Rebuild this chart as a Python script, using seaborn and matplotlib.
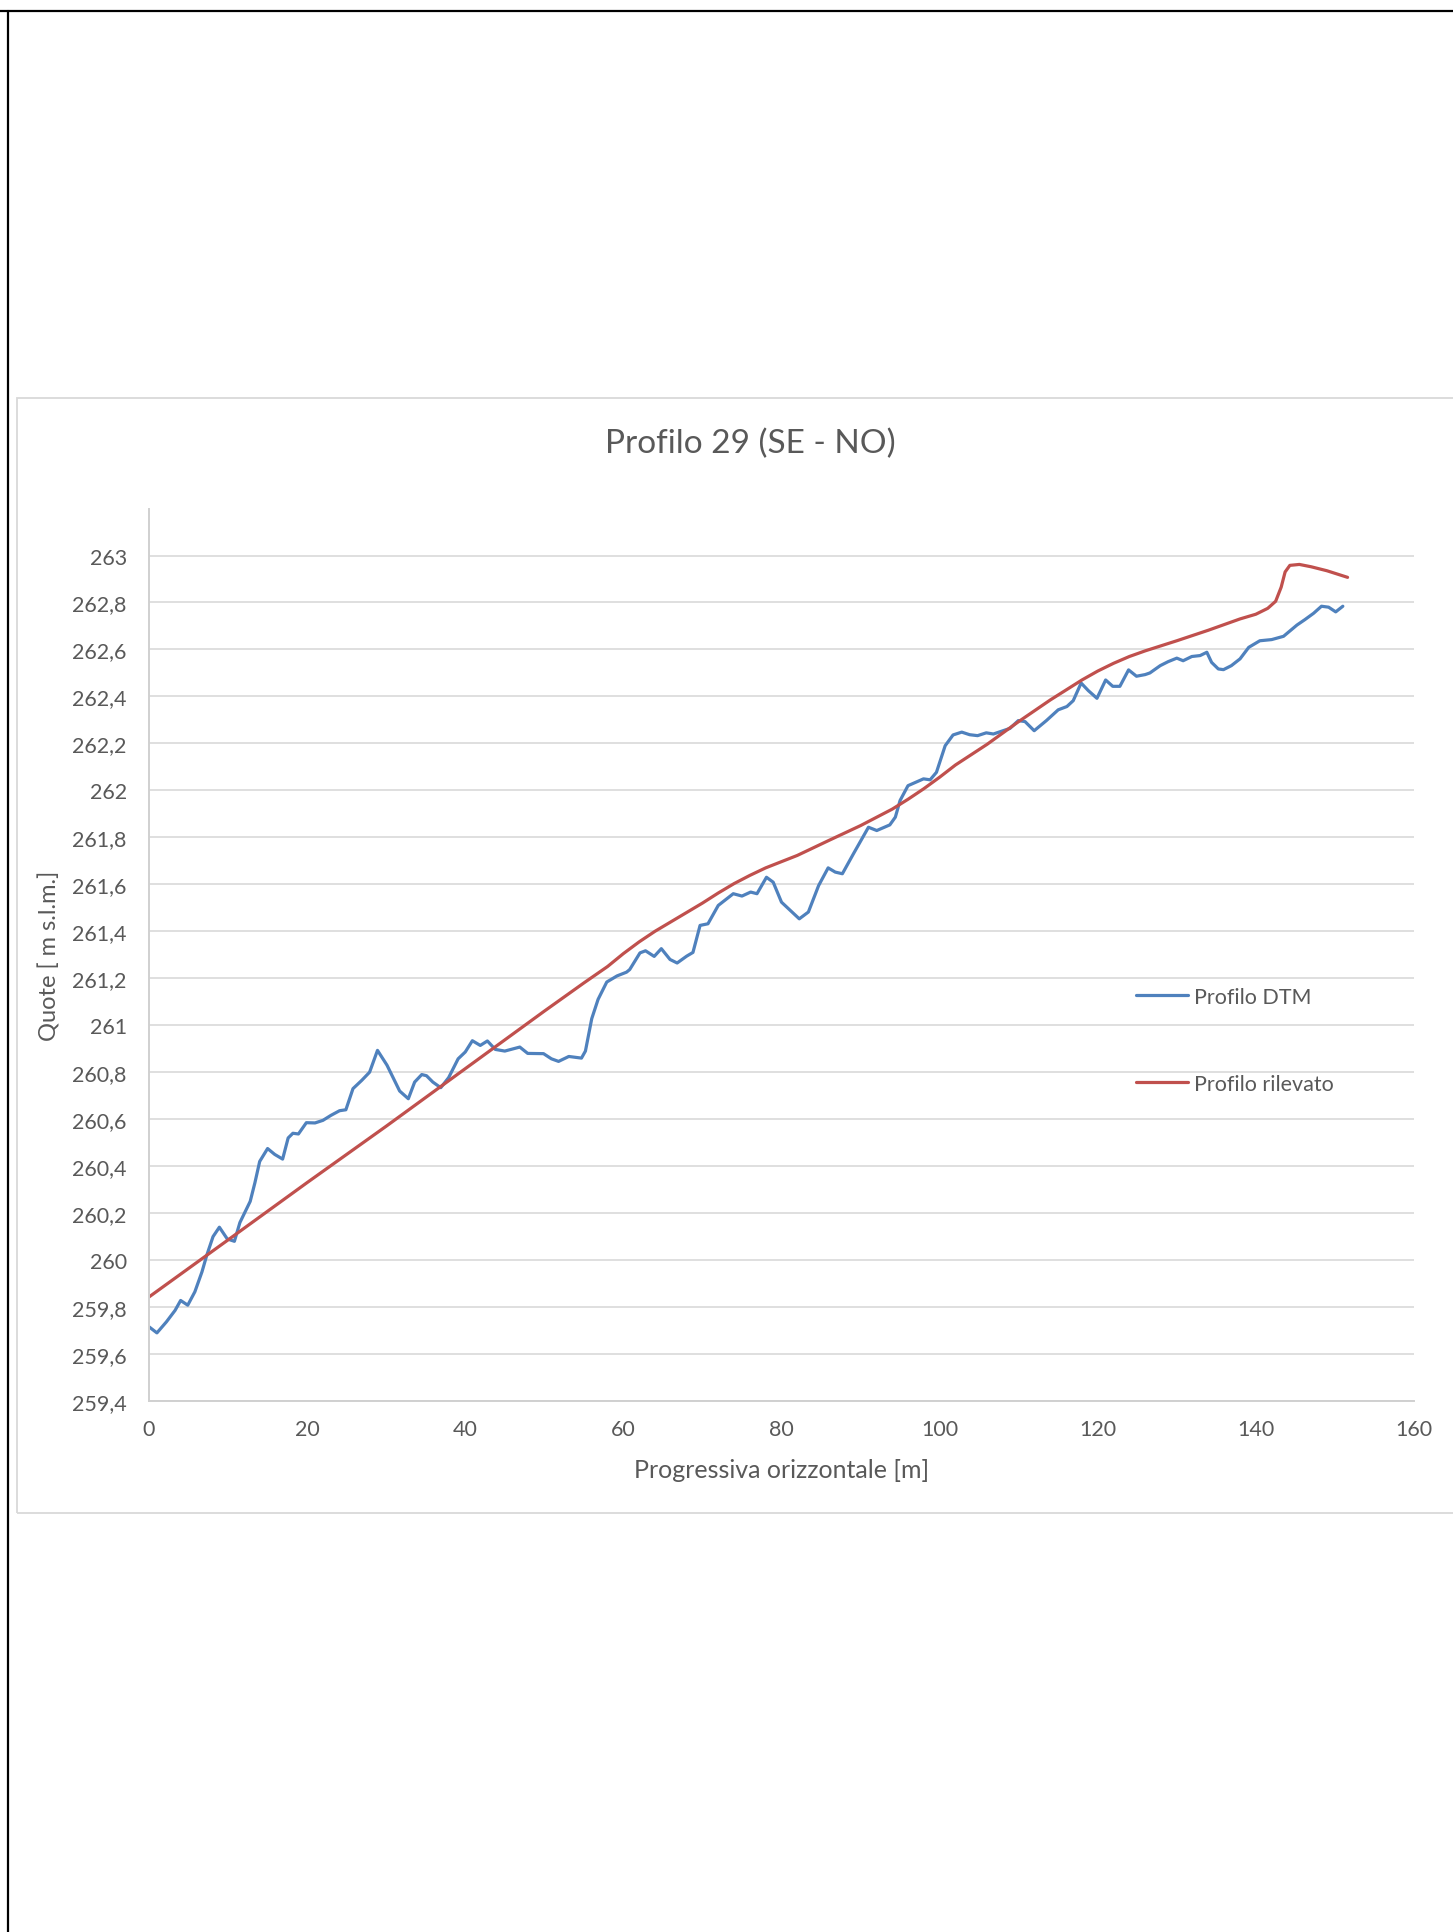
import pandas as pd
import matplotlib.pyplot as plt
import seaborn as sns
from matplotlib.lines import Line2D
from matplotlib.patches import Rectangle
from matplotlib.ticker import FixedLocator, FuncFormatter


# profilo DTM
dtm_x = [0.0, 1.0, 2.2, 3.3, 4.0, 4.9, 5.8, 6.7, 7.3, 8.1, 8.9, 9.9, 10.8, 11.5, 12.8, 13.4, 14.0, 15.0,
         15.9, 16.9, 17.6, 18.2, 18.9, 19.9, 21.0, 22.0, 23.0, 24.1, 24.9, 25.8, 26.9, 27.9, 28.9, 30.1,
         31.7, 32.8, 33.6, 34.5, 35.1, 35.9, 36.9, 37.9, 39.1, 40.0, 40.9, 41.9, 42.8, 43.8, 45.0, 46.1,
         46.9, 47.9, 49.9, 50.9, 51.8, 53.1, 54.7, 55.2, 56.0, 56.8, 57.9, 59.2, 60.4, 60.8, 62.1, 62.8,
         63.9, 64.8, 65.9, 66.8, 68.0, 68.8, 69.7, 70.7, 72.0, 73.9, 75.0, 76.1, 76.9, 78.1, 78.95, 80.0,
         81.1, 82.25, 83.4, 84.7, 85.9, 86.8, 87.7, 89.1, 91.0, 92.05, 93.7, 94.4, 95.0, 96.0, 97.96,
         98.8, 99.6, 100.7, 101.7, 102.8, 103.8, 104.8, 105.9, 106.8, 108.0, 108.9, 109.95, 110.8,
         111.96, 113.5, 115.0, 116.1, 116.9, 117.9, 118.8, 119.9, 121.0, 121.9, 122.8, 123.9, 124.9,
         126.0, 126.6, 127.9, 128.9, 130.0, 130.8, 131.9, 132.95, 133.8, 134.4, 135.25, 135.9, 136.9,
         138.0, 139.1, 140.5, 142.0, 143.5, 144.1, 145.2, 146.2, 147.3, 148.3, 149.2, 150.1, 151.0]
dtm_y = [259.716, 259.69, 259.737, 259.786, 259.828, 259.808, 259.865, 259.95, 260.02, 260.10, 260.14,
         260.09, 260.08, 260.16, 260.25, 260.33, 260.42, 260.475, 260.45, 260.43, 260.52, 260.54,
         260.537, 260.585, 260.584, 260.595, 260.616, 260.636, 260.64, 260.73, 260.765, 260.80, 260.893,
         260.83, 260.72, 260.687, 260.758, 260.79, 260.785, 260.758, 260.734, 260.777, 260.857, 260.886,
         260.934, 260.914, 260.933, 260.897, 260.89, 260.90, 260.907, 260.88, 260.879, 260.857, 260.846,
         260.867, 260.86, 260.89, 261.028, 261.11, 261.184, 261.21, 261.226, 261.237, 261.308, 261.317,
         261.293, 261.326, 261.28, 261.265, 261.294, 261.31, 261.425, 261.432, 261.51, 261.56, 261.55,
         261.567, 261.56, 261.63, 261.609, 261.524, 261.489, 261.453, 261.482, 261.595, 261.67, 261.652,
         261.645, 261.73, 261.843, 261.829, 261.853, 261.886, 261.957, 262.02, 262.049, 262.045, 262.077,
         262.19, 262.236, 262.248, 262.237, 262.233, 262.245, 262.24, 262.254, 262.264, 262.297, 262.293,
         262.254, 262.297, 262.343, 262.357, 262.382, 262.457, 262.425, 262.392, 262.47, 262.443, 262.443,
         262.513, 262.486, 262.493, 262.5, 262.531, 262.548, 262.563, 262.552, 262.57, 262.574, 262.588,
         262.545, 262.517, 262.514, 262.531, 262.56, 262.609, 262.637, 262.642, 262.656, 262.673, 262.704,
         262.727, 262.754, 262.784, 262.78, 262.76, 262.784]

# profilo rilevato
ril_x = [0, 10, 20, 30, 40, 50, 55, 58, 60, 62, 64, 66, 68, 70, 72, 74, 76, 78, 82, 86, 90, 94, 96, 98,
         100, 102, 106, 110, 114, 118, 120, 122, 124, 126, 130, 134, 138, 140, 141.5, 142.5, 143.2, 143.7,
         144.3, 145.5, 147, 149, 151.6]
ril_y = [259.843, 260.086, 260.33, 260.57, 260.815, 261.06, 261.18, 261.25, 261.305, 261.355, 261.40,
         261.44, 261.48, 261.52, 261.563, 261.603, 261.638, 261.67, 261.723, 261.787, 261.85, 261.92,
         261.962, 262.007, 262.056, 262.108, 262.196, 262.293, 262.385, 262.47, 262.508, 262.541, 262.57,
         262.594, 262.637, 262.682, 262.73, 262.75, 262.775, 262.805, 262.865, 262.93, 262.958, 262.962,
         262.952, 262.935, 262.907]

y_ticks = [259.4, 259.6, 259.8, 260, 260.2, 260.4, 260.6, 260.8, 261, 261.2, 261.4, 261.6, 261.8, 262,
           262.2, 262.4, 262.6, 262.8, 263]
x_ticks = [0, 20, 40, 60, 80, 100, 120, 140, 160]

df = pd.concat([
    pd.DataFrame({'x': dtm_x, 'y': dtm_y, 'serie': 'Profilo DTM'}),
    pd.DataFrame({'x': ril_x, 'y': ril_y, 'serie': 'Profilo rilevato'}),
])

sns.set_theme(style='white')
plt.rcParams['font.family'] = ['Lato', 'DejaVu Sans']
grigio = '#595959'

fig = plt.figure(figsize=(14.53, 19.33), dpi=100)
ax = fig.add_axes([0.10255, 0.2747, 0.8706, 0.4617])

sns.lineplot(data=df, x='x', y='y', hue='serie', estimator=None, ax=ax,
             palette={'Profilo DTM': '#4F81BD', 'Profilo rilevato': '#C0504D'}, linewidth=2.3)

ax.set_xlim(0, 160)
ax.set_ylim(259.4, 263.2)
ax.xaxis.set_major_locator(FixedLocator(x_ticks))
ax.yaxis.set_major_locator(FixedLocator(y_ticks))
ax.yaxis.set_major_formatter(FuncFormatter(lambda v, p: f"{v:.1f}".rstrip('0').rstrip('.').replace('.', ',')))
ax.grid(axis='y', color='#D9D9D9', linewidth=1.2)
ax.tick_params(axis='both', length=0, labelsize=15.5, colors=grigio)
ax.tick_params(axis='y', pad=16)
ax.tick_params(axis='x', pad=13)
for s in ['top', 'right']:
    ax.spines[s].set_visible(False)
for s in ['left', 'bottom']:
    ax.spines[s].set_color('#D0D0D0')
    ax.spines[s].set_linewidth(1.4)

ax.set_xlabel('Progressiva orizzontale [m]', fontsize=18, color=grigio)
ax.set_ylabel('Quote [ m s.l.m.]', fontsize=17, color=grigio)
ax.xaxis.set_label_coords(0.5, -0.064)
ax.yaxis.set_label_coords(-0.070, 0.5)

fig.text(0.5165, 0.7705, 'Profilo 29 (SE - NO)', ha='center', va='center', fontsize=24, color=grigio)

ax.legend(loc='upper left', bbox_to_anchor=(0.7818, 0.4889), bbox_transform=fig.transFigure,
          frameon=False, fontsize=15.5, handlelength=2.4, handletextpad=0.3, labelspacing=3.1,
          borderpad=0, borderaxespad=0, labelcolor=grigio)

# cornice del grafico e bordi della pagina
fig.patches.append(Rectangle((0.0117, 0.2168), 1.2, 0.5768, transform=fig.transFigure,
                             fill=False, edgecolor='#D9D9D9', linewidth=1.3))
fig.lines.append(Line2D([0, 1], [0.99395, 0.99395], transform=fig.transFigure, color='black', linewidth=1.6))
fig.lines.append(Line2D([0.0052, 0.0052], [0, 0.99395], transform=fig.transFigure, color='black', linewidth=1.6))

fig.savefig('out.png', dpi=100)
